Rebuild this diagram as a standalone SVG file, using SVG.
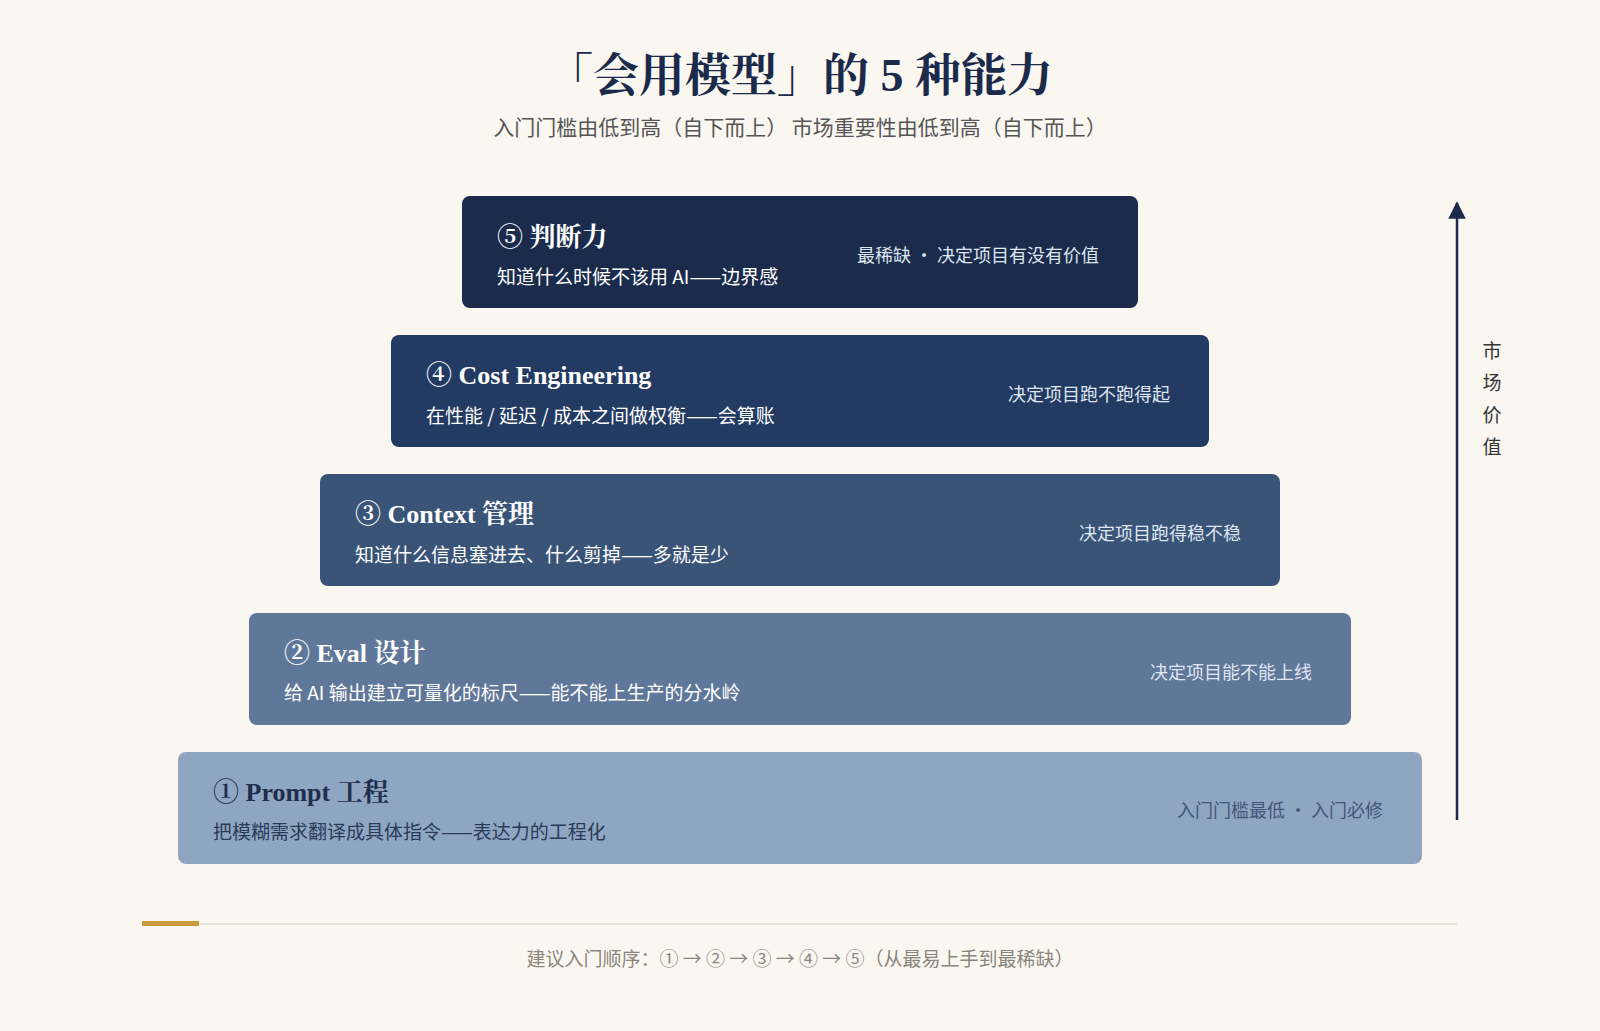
<svg xmlns="http://www.w3.org/2000/svg" width="1600" height="1031" viewBox="0 0 1600 1031">
<style>
.t{font-family:"Liberation Serif","Noto Serif CJK SC","Noto Sans CJK SC",serif;font-weight:bold;font-size:26px}
.s{font-family:"Noto Sans CJK SC",sans-serif;font-size:19px}
.r{font-family:"Noto Sans CJK SC",sans-serif;font-size:18px;text-anchor:end}
.w{fill:#ffffff}.wr{fill:#dfe6f0}
</style>
<defs><marker id="ah" viewBox="0 0 10 10" refX="9" refY="5" markerWidth="7" markerHeight="7" orient="auto"><path d="M0,0L10,5L0,10z" fill="#1b2a4a"/></marker></defs>
<rect width="1600" height="1031" fill="#faf7f1"/>
<text x="800" y="91" text-anchor="middle" font-family="Liberation Serif,Noto Serif CJK SC,Noto Sans CJK SC,serif" font-weight="bold" font-size="46" fill="#1b2a4a">「会用模型」的 5 种能力</text>
<text x="800" y="135" text-anchor="middle" font-family="Noto Sans CJK SC,sans-serif" font-size="21" fill="#555">入门门槛由低到高（自下而上）  市场重要性由低到高（自下而上）</text>
<g id="layer5"><rect x="462" y="196" width="676" height="112" rx="8" fill="#1a2b4c"/>
<text class="t w" x="497" y="246">⑤ 判断力</text><text class="s w" x="497" y="284">知道什么时候不该用 AI——边界感</text><text class="r wr" x="1099" y="262">最稀缺 · 决定项目有没有价值</text></g>
<g id="layer4"><rect x="391" y="335" width="818" height="112" rx="8" fill="#233a62"/>
<text class="t w" x="426" y="384">④ Cost Engineering</text><text class="s w" x="426" y="423">在性能 / 延迟 / 成本之间做权衡——会算账</text><text class="r wr" x="1170" y="401">决定项目跑不跑得起</text></g>
<g id="layer3"><rect x="320" y="474" width="960" height="112" rx="8" fill="#3a5478"/>
<text class="t w" x="355" y="523">③ Context 管理</text><text class="s w" x="355" y="562">知道什么信息塞进去、什么剪掉——多就是少</text><text class="r wr" x="1241" y="540">决定项目跑得稳不稳</text></g>
<g id="layer2"><rect x="249" y="613" width="1102" height="112" rx="8" fill="#5f7799"/>
<text class="t w" x="284" y="662">② Eval 设计</text><text class="s w" x="284" y="700">给 AI 输出建立可量化的标尺——能不能上生产的分水岭</text><text class="r wr" x="1312" y="679">决定项目能不能上线</text></g>
<g id="layer1"><rect x="178" y="752" width="1244" height="112" rx="8" fill="#8fa6c2"/>
<text class="t" fill="#1f2e4d" x="213" y="801">① Prompt 工程</text><text class="s" fill="#2a3a58" x="213" y="839">把模糊需求翻译成具体指令——表达力的工程化</text><text class="r" fill="#44557a" x="1383" y="817">入门门槛最低 · 入门必修</text></g>
<g id="connectors"><line x1="1457" y1="820" x2="1457" y2="203" stroke="#1b2a4a" stroke-width="2.5" marker-end="url(#ah)"/></g>
<g font-family="Noto Sans CJK SC,sans-serif" font-size="19" fill="#333" text-anchor="middle">
<text x="1492" y="358">市</text><text x="1492" y="390">场</text><text x="1492" y="422">价</text><text x="1492" y="454">值</text></g>
<line x1="142" y1="924" x2="1457" y2="924" stroke="#e6e1d8" stroke-width="2"/>
<rect x="142" y="921" width="57" height="5" fill="#c89b3c"/>
<text x="800" y="966" text-anchor="middle" font-family="Noto Sans CJK SC,sans-serif" font-size="19" fill="#8a857c">建议入门顺序：① → ② → ③ → ④ → ⑤（从最易上手到最稀缺）</text>
</svg>
